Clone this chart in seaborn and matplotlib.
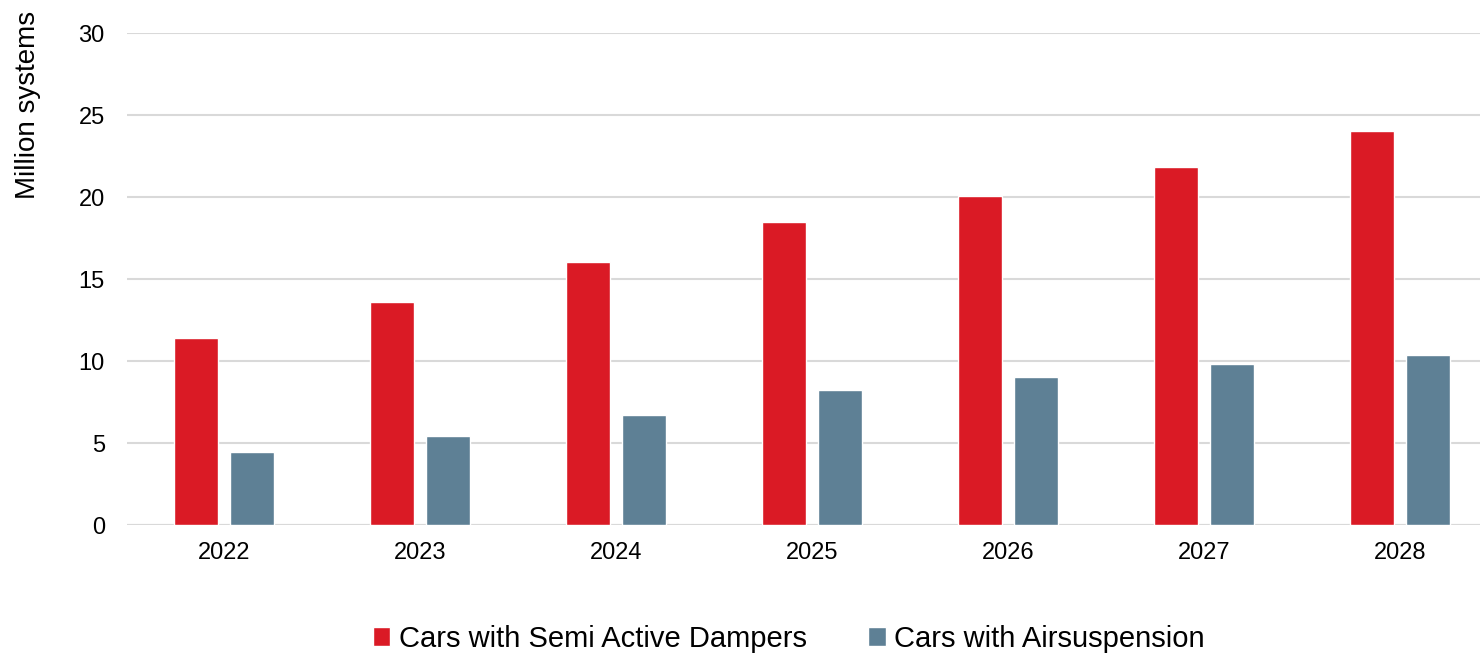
import matplotlib
matplotlib.use("Agg")
import matplotlib.pyplot as plt
import seaborn as sns
import pandas as pd

years = ["2022", "2023", "2024", "2025", "2026", "2027", "2028"]
semi_active = [11.4, 13.6, 16.05, 18.5, 20.05, 21.85, 24.05]
air_suspension = [4.45, 5.45, 6.7, 8.25, 9.05, 9.8, 10.37]
series_names = ["Cars with Semi Active Dampers", "Cars with Airsuspension"]
colors = ["#DA1A25", "#5E8095"]

df = pd.DataFrame({
    "Year": years * 2,
    "Value": semi_active + air_suspension,
    "Series": [series_names[0]] * len(years) + [series_names[1]] * len(years),
})

sns.set_style("white")
plt.rcParams["font.family"] = ["Liberation Sans", "DejaVu Sans"]
plt.rcParams["text.color"] = "black"
plt.rcParams["xtick.color"] = "black"
plt.rcParams["ytick.color"] = "black"

fig = plt.figure(figsize=(14.8, 6.54), dpi=100)
ax = fig.add_axes([127 / 1480, (654 - 525) / 654, 1 - 127 / 1480, (525 - 33) / 654])

sns.barplot(data=df, x="Year", y="Value", hue="Series", palette=colors,
            width=0.571, gap=0.216, ax=ax, saturation=1, legend=True)

ax.set_ylim(0, 30)
ax.set_xlim(-0.495, 6.408)
ax.set_yticks(range(0, 31, 5))
ax.yaxis.grid(True, color="#D9D9D9", linewidth=1.5)
ax.set_axisbelow(True)
for s in ax.spines.values():
    s.set_visible(False)
ax.axhline(0, color="#D9D9D9", linewidth=1.5, zorder=0)
ax.tick_params(axis="both", length=0, labelsize=17)
ax.tick_params(axis="x", pad=12)
ax.tick_params(axis="y", pad=16)
ax.set_xlabel("")
ax.set_ylabel("")
fig.text(28 / 1480, 1 - 105 / 654, "Million systems", rotation=90, fontsize=20,
         ha="center", va="center")

handles, labels = ax.get_legend_handles_labels()
ax.legend(handles, labels, loc="center", bbox_to_anchor=(0.533, 1 - 639 / 654),
          bbox_transform=fig.transFigure, ncol=2, frameon=False, fontsize=21,
          handlelength=0.6, handleheight=0.6, handletextpad=0.3, columnspacing=2.1)

fig.savefig("out.png", dpi=100)
